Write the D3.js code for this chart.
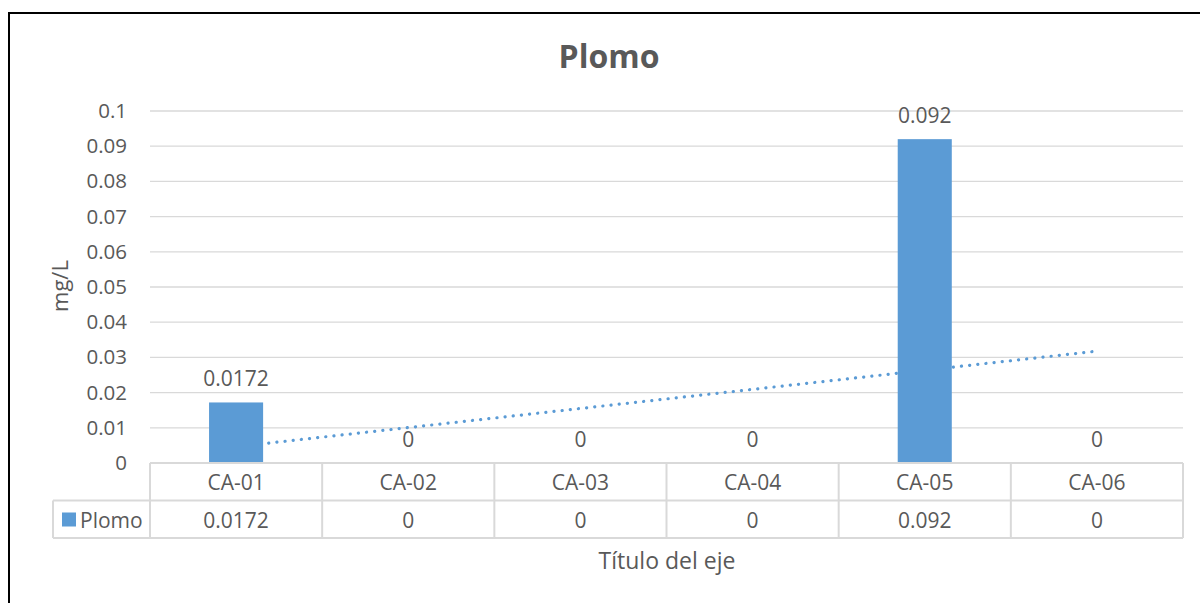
<!DOCTYPE html>
<html>
<head>
<meta charset="utf-8">
<script src="https://cdn.jsdelivr.net/npm/d3@7"></script>
<style>
  body { margin: 0; background: #fff; }
  text { font-family: "Open Sans", sans-serif; fill: #595959; }
</style>
</head>
<body>
<svg id="chart" width="1200" height="603"></svg>
<script>
var categories = ["CA-01", "CA-02", "CA-03", "CA-04", "CA-05", "CA-06"]
var plomo = [0.0172, 0, 0, 0, 0.092, 0]
var yTicks = [0, 0.01, 0.02, 0.03, 0.04, 0.05, 0.06, 0.07, 0.08, 0.09, 0.1]
var seriesName = "Plomo"

var svg = d3.select("#chart")
var plotL = 150, plotR = 1183, plotT = 111, plotB = 463
var rowH = 37.5
var blue = "#5b9bd5", gridColor = "#d9d9d9"

// chart frame
svg.append("rect")
  .attr("x", 9).attr("y", 13)
  .attr("width", 1200).attr("height", 620)
  .attr("fill", "none").attr("stroke", "#000").attr("stroke-width", 2)

var x = d3.scaleBand().domain(categories).range([plotL, plotR]).paddingInner(0.686).paddingOuter(0.343)
var xc = d3.scaleBand().domain(categories).range([plotL, plotR])
var y = d3.scaleLinear().domain([0, 0.1]).range([plotB, plotT])

svg.append("text")
  .attr("x", 609).attr("y", 68)
  .attr("text-anchor", "middle")
  .style("font-size", "32px").style("font-weight", "bold")
  .text("Plomo")

// gridlines + y ticks
svg.append("g").selectAll("line")
  .data(yTicks.slice(1))
  .enter().append("line")
  .attr("x1", plotL).attr("x2", plotR)
  .attr("y1", d => y(d)).attr("y2", d => y(d))
  .attr("stroke", gridColor).attr("stroke-width", 1.3)

svg.append("g").selectAll("text")
  .data(yTicks)
  .enter().append("text")
  .attr("x", 127).attr("y", d => y(d) + 7)
  .attr("text-anchor", "end")
  .style("font-size", "20.5px")
  .text(d => d3.format("~g")(d))

svg.append("text")
  .attr("transform", "translate(68,286) rotate(-90)")
  .attr("text-anchor", "middle")
  .style("font-size", "22px")
  .text("mg/L")

// linear trendline computed from the series
var n = plomo.length
var xs = plomo.map((d, i) => i + 1)
var mx = d3.mean(xs), my = d3.mean(plomo)
var slope = d3.sum(xs, (d, i) => (d - mx) * (plomo[i] - my)) / d3.sum(xs, d => (d - mx) * (d - mx))
var icpt = my - slope * mx
svg.append("line")
  .attr("x1", xc(categories[0]) + xc.bandwidth() / 2)
  .attr("x2", xc(categories[n - 1]) + xc.bandwidth() / 2)
  .attr("y1", y(icpt + slope * 1))
  .attr("y2", y(icpt + slope * n))
  .attr("stroke", blue).attr("stroke-width", 3.2)
  .attr("stroke-linecap", "round")
  .attr("stroke-dasharray", "0.1,8.1")

// bars
svg.append("g").selectAll("rect")
  .data(plomo)
  .enter().append("rect")
  .attr("x", (d, i) => x(categories[i]))
  .attr("y", d => y(d))
  .attr("width", x.bandwidth())
  .attr("height", d => plotB - y(d))
  .attr("fill", blue)

// data labels
svg.append("g").selectAll("text")
  .data(plomo)
  .enter().append("text")
  .attr("x", (d, i) => xc(categories[i]) + xc.bandwidth() / 2)
  .attr("y", d => y(d) - 16)
  .attr("text-anchor", "middle")
  .style("font-size", "21px")
  .text(d => d)

// data table
var tbl = svg.append("g")
var legendLeft = 53
var tblLines = tbl.append("g").attr("stroke", gridColor).attr("stroke-width", 2)
tblLines.append("line").attr("x1", plotL).attr("x2", plotR).attr("y1", plotB).attr("y2", plotB)
tblLines.append("line").attr("x1", legendLeft).attr("x2", plotR).attr("y1", plotB + rowH).attr("y2", plotB + rowH)
tblLines.append("line").attr("x1", legendLeft).attr("x2", plotR).attr("y1", plotB + 2 * rowH).attr("y2", plotB + 2 * rowH)
tblLines.append("line").attr("x1", legendLeft).attr("x2", legendLeft).attr("y1", plotB + rowH).attr("y2", plotB + 2 * rowH)
tblLines.selectAll(".v")
  .data(categories.concat(["end"]))
  .enter().append("line")
  .attr("x1", (d, i) => plotL + i * xc.bandwidth())
  .attr("x2", (d, i) => plotL + i * xc.bandwidth())
  .attr("y1", plotB).attr("y2", plotB + 2 * rowH)

tbl.selectAll(".cat")
  .data(categories)
  .enter().append("text")
  .attr("x", d => xc(d) + xc.bandwidth() / 2)
  .attr("y", plotB + 27)
  .attr("text-anchor", "middle")
  .style("font-size", "21px")
  .text(d => d)

tbl.selectAll(".val")
  .data(plomo)
  .enter().append("text")
  .attr("x", (d, i) => xc(categories[i]) + xc.bandwidth() / 2)
  .attr("y", plotB + rowH + 27)
  .attr("text-anchor", "middle")
  .style("font-size", "21px")
  .text(d => d)

tbl.append("rect")
  .attr("x", 62).attr("y", plotB + rowH + 12)
  .attr("width", 14).attr("height", 14)
  .attr("fill", blue)
tbl.append("text")
  .attr("x", 80).attr("y", plotB + rowH + 27)
  .style("font-size", "21px")
  .text(seriesName)

svg.append("text")
  .attr("x", 667).attr("y", 569)
  .attr("text-anchor", "middle")
  .style("font-size", "23px")
  .text("Título del eje")
</script>
</body>
</html>
